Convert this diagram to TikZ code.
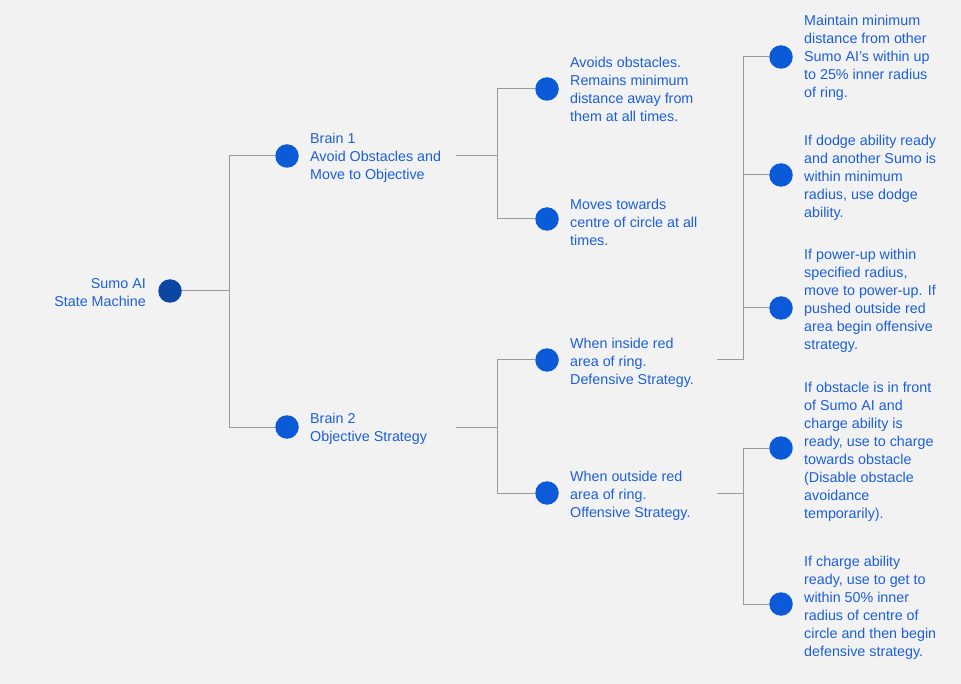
\documentclass[tikz,border=0pt]{standalone}
\usepackage{fontspec}
\setmainfont{Liberation Sans}
\definecolor{bg}{HTML}{F2F2F2}
\definecolor{txt}{HTML}{1C5FD8}
\definecolor{dot}{HTML}{0B5BD9}
\definecolor{rootdot}{HTML}{0A46A2}
\definecolor{ln}{HTML}{9A9A9A}
\begin{document}
\begin{tikzpicture}[x=1pt,y=-1pt,
  lbl/.style={font=\fontsize{14.3}{18}\selectfont, text=txt, align=left, anchor=west, inner sep=0pt},
  dotnode/.style={circle, fill=dot, minimum size=23.5pt, inner sep=0pt},
  conn/.style={draw=ln, line width=1pt}]
\fill[bg] (0,0) rectangle (961,684);
\useasboundingbox (0,0) rectangle (961,684);

% circles
\node[dotnode, fill=rootdot] (root) at (170,291) {};
\node[dotnode] (b1) at (287,156) {};
\node[dotnode] (b2) at (287,427) {};
\node[dotnode] (c1) at (547,89) {};
\node[dotnode] (c2) at (547,219) {};
\node[dotnode] (c3) at (547,360) {};
\node[dotnode] (c4) at (547,493) {};
\node[dotnode] (d1) at (781,57) {};
\node[dotnode] (d2) at (781,175) {};
\node[dotnode] (d3) at (781,308) {};
\node[dotnode] (d4) at (781,448) {};
\node[dotnode] (d5) at (781,604) {};

% labels
\node[lbl, anchor=east, align=right] (troot) at (146,293) {Sumo AI\\State Machine};
\node[lbl] (tb1) at (310,158) {Brain 1\\Avoid Obstacles and\\Move to Objective};
\node[lbl] (tb2) at (310,429) {Brain 2\\Objective Strategy};
\node[lbl] (tc1) at (570,89) {Avoids obstacles.\\Remains minimum\\distance away from\\them at all times.};
\node[lbl] (tc2) at (570,222) {Moves towards\\centre of circle at all\\times.};
\node[lbl] (tc3) at (570,363) {When inside red\\area of ring.\\Defensive Strategy.};
\node[lbl] (tc4) at (570,496) {When outside red\\area of ring.\\Offensive Strategy.};
\node[lbl] (td1) at (804,58) {Maintain minimum\\distance from other\\Sumo AI’s within up\\to 25\% inner radius\\of ring.};
\node[lbl] (td2) at (804,178) {If dodge ability ready\\and another Sumo is\\within minimum\\radius, use dodge\\ability.};
\node[lbl] (td3) at (804,301) {If power-up within\\specified radius,\\move to power-up. If\\pushed outside red\\area begin offensive\\strategy.};
\node[lbl] (td4) at (804,452) {If obstacle is in front\\of Sumo AI and\\charge ability is\\ready, use to charge\\towards obstacle\\(Disable obstacle\\avoidance\\temporarily).};
\node[lbl] (td5) at (804,608) {If charge ability\\ready, use to get to\\within 50\% inner\\radius of centre of\\circle and then begin\\defensive strategy.};

% junctions
\coordinate (j0) at (229,291);
\coordinate (s1) at (456,156);
\coordinate (j1) at (497,156);
\coordinate (s2) at (456,427);
\coordinate (j2) at (497,427);
\coordinate (s3) at (717,360);
\coordinate (j3) at (743,360);
\coordinate (s4) at (717,493);
\coordinate (j4) at (743,493);

% connectors
\draw[conn] (root) -- (j0);
\draw[conn] (b1) -| (j0);
\draw[conn] (b2) -| (j0);
\draw[conn] (s1) -- (j1);
\draw[conn] (c1) -| (j1);
\draw[conn] (c2) -| (j1);
\draw[conn] (s2) -- (j2);
\draw[conn] (c3) -| (j2);
\draw[conn] (c4) -| (j2);
\draw[conn] (s3) -- (j3);
\draw[conn] (d1) -| (j3);
\draw[conn] (d2) -| (j3);
\draw[conn] (d3) -| (j3);
\draw[conn] (s4) -- (j4);
\draw[conn] (d4) -| (j4);
\draw[conn] (d5) -| (j4);
\end{tikzpicture}
\end{document}
